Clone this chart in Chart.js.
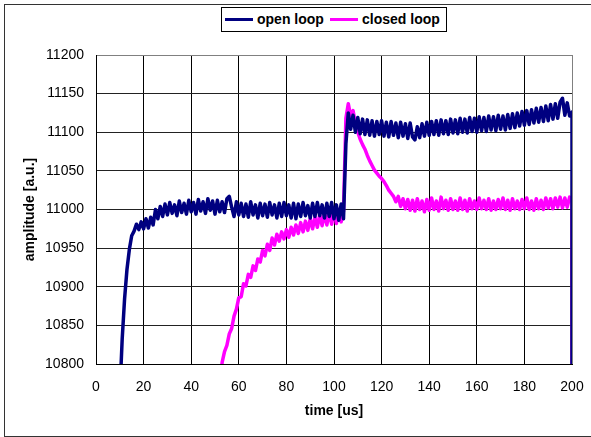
<!DOCTYPE html>
<html>
<head>
<meta charset="utf-8">
<script src="https://cdn.jsdelivr.net/npm/chart.js@4.4.1/dist/chart.umd.min.js"></script>
<style>
    html, body { margin: 0; padding: 0; background: #fff; }
    #wrap { position: relative; width: 591px; height: 437px; overflow: hidden; font-family: "Liberation Sans", Arial, sans-serif; }
    #frame { position: absolute; left: 4px; top: 4px; width: 592px; height: 433px; box-sizing: border-box; border: 1px solid #333; }
    #chart { position: absolute; left: 0; top: 0; }
    #legend { position: absolute; left: 221px; top: 7px; width: 226px; height: 25px; box-sizing: border-box; border: 1px solid #000; background: #fff; }
    #legend .swatch { position: absolute; top: 10px; width: 28px; height: 3px; }
    #legend .label { position: absolute; top: 0; line-height: 23px; font-size: 14px; font-weight: bold; color: #000; white-space: nowrap; }
</style>
</head>
<body>
<div id="wrap">
    <div id="frame"></div>
    <canvas id="chart" width="591" height="437"></canvas>
    <div id="legend">
        <div class="swatch" style="left:3px;background:#000080"></div>
        <div class="label" style="left:35px">open loop</div>
        <div class="swatch" style="left:108px;background:#ff00ff"></div>
        <div class="label" style="left:140px">closed loop</div>
    </div>
</div>
<script>
// sample times in us (the trace ends with a drop at 200)
const time = [
    0, 1, 2, 3, 4, 5, 6, 7, 8, 9,
    10, 11, 12, 13, 14, 15, 16, 17, 18, 19,
    20, 21, 22, 23, 24, 25, 26, 27, 28, 29,
    30, 31, 32, 33, 34, 35, 36, 37, 38, 39,
    40, 41, 42, 43, 44, 45, 46, 47, 48, 49,
    50, 51, 52, 53, 54, 55, 56, 57, 58, 59,
    60, 61, 62, 63, 64, 65, 66, 67, 68, 69,
    70, 71, 72, 73, 74, 75, 76, 77, 78, 79,
    80, 81, 82, 83, 84, 85, 86, 87, 88, 89,
    90, 91, 92, 93, 94, 95, 96, 97, 98, 99,
    100, 101, 102, 103, 104, 105, 106, 107, 108, 109,
    110, 111, 112, 113, 114, 115, 116, 117, 118, 119,
    120, 121, 122, 123, 124, 125, 126, 127, 128, 129,
    130, 131, 132, 133, 134, 135, 136, 137, 138, 139,
    140, 141, 142, 143, 144, 145, 146, 147, 148, 149,
    150, 151, 152, 153, 154, 155, 156, 157, 158, 159,
    160, 161, 162, 163, 164, 165, 166, 167, 168, 169,
    170, 171, 172, 173, 174, 175, 176, 177, 178, 179,
    180, 181, 182, 183, 184, 185, 186, 187, 188, 189,
    190, 191, 192, 193, 194, 195, 196, 197, 198, 199,
    200, 200
];

const openLoop = [
    null, null, null, null, null, null, null, null, null, null,
    10760, 10832, 10884, 10922, 10948, 10966, 10972, 10981, 10974, 10984,
    10975, 10988, 10976, 10990, 10980, 11000, 10988, 11004, 10991, 11007,
    10993, 11009, 10995, 11006, 10992, 11011, 10996, 11008, 10994, 11012,
    10997, 11009, 10994, 11013, 10998, 11010, 10995, 11014, 10999, 11011,
    10994, 11012, 10997, 11010, 10996, 11014, 11017, 11003, 10991, 11010,
    10993, 11008, 10991, 11007, 10990, 11010, 10993, 11006, 10989, 11008,
    10992, 11007, 10990, 11009, 10993, 11006, 10989, 11008, 10991, 11009,
    10992, 11006, 10989, 11008, 10988, 11007, 10991, 11009, 10992, 11005,
    10989, 11008, 10991, 11009, 10992, 11006, 10989, 11008, 10991, 11009,
    10988, 11006, 10986, 11007, 10988, 11085, 11125, 11104, 11122, 11100,
    11119, 11098, 11117, 11097, 11116, 11096, 11115, 11095, 11114, 11097,
    11115, 11095, 11113, 11094, 11114, 11096, 11112, 11093, 11113, 11095,
    11111, 11092, 11112, 11094, 11090, 11107, 11093, 11111, 11095, 11113,
    11096, 11114, 11097, 11115, 11096, 11116, 11098, 11115, 11097, 11117,
    11099, 11116, 11098, 11118, 11100, 11117, 11099, 11119, 11101, 11118,
    11100, 11120, 11102, 11119, 11101, 11121, 11103, 11120, 11102, 11122,
    11104, 11121, 11103, 11123, 11105, 11124, 11106, 11125, 11108, 11127,
    11109, 11128, 11110, 11129, 11112, 11131, 11113, 11132, 11114, 11134,
    11115, 11136, 11117, 11137, 11118, 11139, 11144, 11122, 11138, 11121,
    11126, 10700
];

const closedLoop = [
    null, null, null, null, null, null, null, null, null, null,
    null, null, null, null, null, null, null, null, null, null,
    null, null, null, null, null, null, null, null, null, null,
    null, null, null, null, null, null, null, null, null, null,
    null, null, null, null, null, null, null, null, null, null,
    null, null, 10770, 10802, 10816, 10824, 10839, 10846, 10862, 10871,
    10886, 10887, 10904, 10901, 10916, 10912, 10927, 10921, 10936, 10932,
    10947, 10940, 10955, 10947, 10963, 10954, 10968, 10959, 10971, 10962,
    10974, 10964, 10977, 10967, 10980, 10969, 10983, 10971, 10985, 10973,
    10988, 10975, 10990, 10977, 10993, 10979, 10995, 10980, 10997, 10981,
    10999, 10982, 11000, 10984, 10998, 11118, 11137, 11121, 11128, 11112,
    11100, 11091, 11084, 11078, 11070, 11063, 11057, 11051, 11047, 11043,
    11040, 11036, 11031, 11025, 11021, 11017, 11010, 11017, 11004, 11014,
    11001, 11013, 10999, 11012, 10998, 11014, 11000, 11011, 10997, 11013,
    10999, 11015, 11000, 11011, 10998, 11016, 11001, 11012, 10999, 11014,
    11000, 11011, 10999, 11015, 11000, 11012, 10998, 11014, 11001, 11011,
    11000, 11015, 11001, 11012, 11000, 11014, 10999, 11011, 11000, 11013,
    11001, 11015, 11000, 11012, 10999, 11014, 11001, 11011, 11000, 11013,
    11001, 11015, 11000, 11011, 10999, 11014, 11001, 11012, 11000, 11015,
    11002, 11014, 11001, 11015, 11003, 11016, 11002, 11015, 11003, 11016,
    11010, 10700
];

const xTicks = { min: 0, max: 200, step: 20 };
const yTicks = { min: 10800, max: 11200, step: 50 };

const tickFont = { family: "'Liberation Sans', Arial, sans-serif", size: 14 };
const titleFont = { family: "'Liberation Sans', Arial, sans-serif", size: 14, weight: "bold" };

new Chart(document.getElementById("chart").getContext("2d"), {
    type: "line",
    data: {
        labels: time,
        datasets: [
            { label: "open loop", data: openLoop, borderColor: "#000080", borderWidth: 3.5, clip: 0 },
            { label: "closed loop", data: closedLoop, borderColor: "#ff00ff", borderWidth: 3.5, clip: 0 }
        ]
    },
    options: {
        responsive: false,
        animation: false,
        layout: { padding: { top: 55, right: 19, left: 0, bottom: 0 } },
        elements: { point: { radius: 0 }, line: { tension: 0, borderJoinStyle: "round", borderCapStyle: "round" } },
        plugins: { legend: { display: false }, tooltip: { enabled: false } },
        scales: {
            x: {
                type: "linear",
                min: xTicks.min,
                max: xTicks.max,
                ticks: { stepSize: xTicks.step, font: tickFont, color: "#000", padding: 15, maxRotation: 0 },
                grid: { color: (ctx) => (ctx.tick && ctx.tick.value === xTicks.max ? "#808080" : "#000"), drawTicks: false },
                border: { color: "#000" },
                title: { display: true, text: "time [us]", font: titleFont, color: "#000", padding: { top: 0, bottom: 17 } },
                afterFit: (scale) => { scale.height = 73; scale.paddingLeft = 0; scale.paddingRight = 0; }
            },
            y: {
                min: yTicks.min,
                max: yTicks.max,
                ticks: { stepSize: yTicks.step, font: tickFont, color: "#000", padding: 12, callback: (v) => String(v) },
                grid: { color: (ctx) => (ctx.tick && ctx.tick.value === yTicks.max ? "#808080" : "#222"), drawTicks: false },
                border: { color: "#000" },
                title: { display: true, text: "amplitude [a.u.]", font: titleFont, color: "#000", padding: { top: 22, bottom: 0 } },
                afterFit: (scale) => { scale.width = 96; scale.paddingTop = 0; scale.paddingBottom = 0; }
            }
        }
    }
});
</script>
</body>
</html>
